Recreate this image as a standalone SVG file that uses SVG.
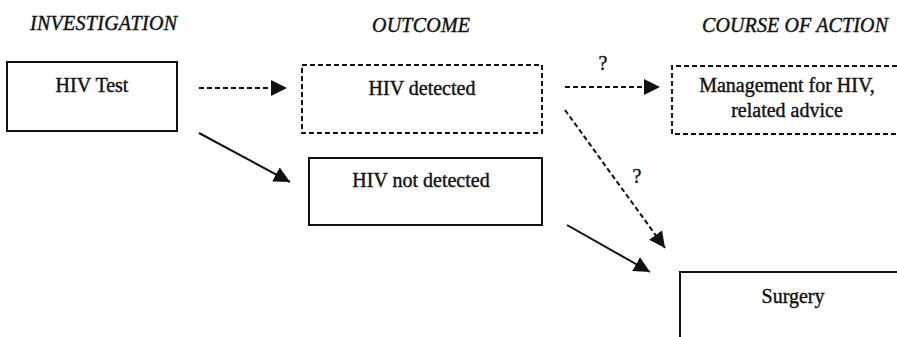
<svg xmlns="http://www.w3.org/2000/svg" width="897" height="337" viewBox="0 0 897 337">
  <defs>
    <style>
      text { font-family: "Liberation Serif", "Times New Roman", serif; font-size: 20px; fill: #111; stroke: #111; stroke-width: 0.4; }
      .head { font-style: italic; }
      .lbl { text-anchor: middle; }
      .box { fill: none; stroke: #111; stroke-width: 2; }
      .dash { stroke-dasharray: 5 3; }
      .edge { fill: none; stroke: #111; stroke-width: 2; }
    </style>
    <marker id="head" viewBox="0 0 16 16" refX="16" refY="8" markerWidth="16" markerHeight="16" markerUnits="userSpaceOnUse" orient="auto">
      <path d="M0,0 L16,8 L0,16 Z" fill="#111"/>
    </marker>
  </defs>

  <!-- column headings -->
  <g id="headings">
    <text class="head" x="30" y="30" textLength="147">INVESTIGATION</text>
    <text class="head" x="372" y="32" textLength="98">OUTCOME</text>
    <text class="head" x="702" y="32" textLength="186">COURSE OF ACTION</text>
  </g>

  <g id="hiv-test">
    <rect class="box" x="7" y="62" width="170" height="69"/>
    <text class="lbl" x="92" y="92">HIV Test</text>
  </g>

  <g id="hiv-detected">
    <rect class="box dash" x="302" y="65" width="240" height="68"/>
    <text class="lbl" x="422" y="95">HIV detected</text>
  </g>

  <g id="hiv-not-detected">
    <rect class="box" x="309" y="158" width="233" height="67"/>
    <text class="lbl" x="421" y="187">HIV not detected</text>
  </g>

  <!-- boxes that run past the right edge of the page -->
  <g id="management">
    <path class="box dash" d="M905,66 H672 V134 H905"/>
    <text class="lbl" x="787" y="92">Management for HIV,</text>
    <text class="lbl" x="787" y="117">related advice</text>
  </g>

  <g id="surgery">
    <path class="box" d="M680,345 V272 H905"/>
    <text class="lbl" x="793" y="303">Surgery</text>
  </g>

  <g id="connectors">
    <line class="edge dash" x1="199" y1="88" x2="287" y2="88" marker-end="url(#head)"/>
    <line class="edge" x1="199" y1="133" x2="290" y2="182" marker-end="url(#head)"/>
    <line class="edge dash" x1="565" y1="87" x2="660" y2="87" marker-end="url(#head)"/>
    <text class="lbl" x="603" y="70">?</text>
    <line class="edge dash" x1="565" y1="110" x2="665" y2="248" marker-end="url(#head)"/>
    <text class="lbl" x="637" y="183">?</text>
    <line class="edge" x1="567" y1="225" x2="650" y2="272" marker-end="url(#head)"/>
  </g>
</svg>
